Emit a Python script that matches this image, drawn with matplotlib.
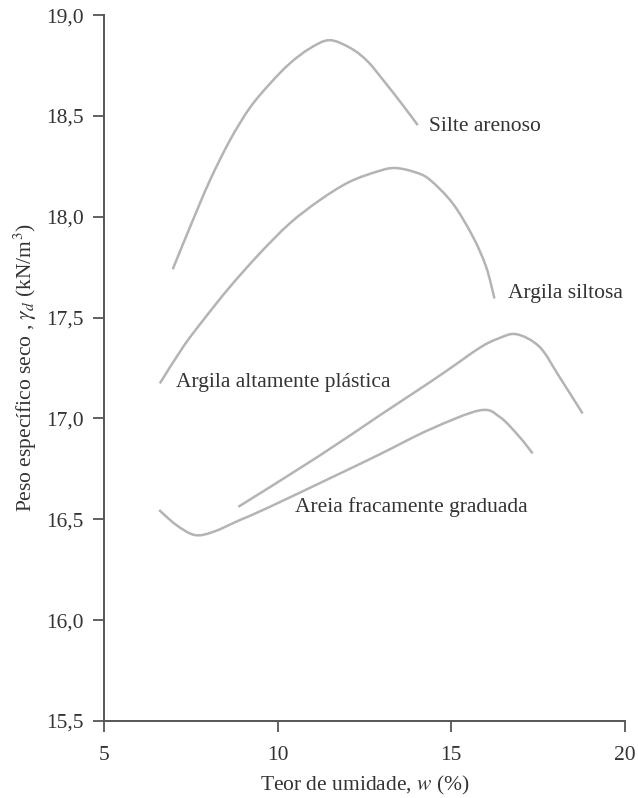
import matplotlib
matplotlib.use("Agg")
import matplotlib.pyplot as plt
import numpy as np
from matplotlib.path import Path
from matplotlib.patches import PathPatch

plt.rcParams['font.family'] = ['Liberation Serif', 'DejaVu Serif']
plt.rcParams['mathtext.fontset'] = 'stix'

# Compaction curves: moisture content w (%) vs dry unit weight (kN/m3)
silte_w = [6.98, 7.48, 8.05, 8.63, 9.20, 9.78, 10.35, 10.93, 11.50, 12.12,
           12.60, 13.08, 13.56, 14.04]
silte_g = [17.74, 17.95, 18.18, 18.38, 18.54, 18.66, 18.76, 18.835, 18.876, 18.835,
           18.77, 18.67, 18.565, 18.455]

siltosa_w = [6.61, 7.28, 7.86, 8.63, 9.49, 10.35, 11.22, 12.08, 12.94, 13.40,
             13.95, 14.38, 15.05, 15.63, 16.01, 16.25]
siltosa_g = [17.174, 17.355, 17.488, 17.653, 17.819, 17.967, 18.083, 18.174, 18.228, 18.242,
             18.222, 18.185, 18.066, 17.901, 17.752, 17.595]

plastica_w = [8.87, 11.16, 12.94, 14.04, 14.86, 15.82, 16.34, 16.88, 17.55, 18.12, 18.79]
plastica_g = [16.562, 16.81, 17.015, 17.14, 17.235, 17.35, 17.395, 17.418, 17.355, 17.207, 17.025]

areia_w = [6.59, 7.09, 7.62, 8.15, 8.91, 9.68, 11.60, 12.94, 14.38, 15.82, 16.40, 16.97, 17.35]
areia_g = [16.546, 16.471, 16.422, 16.438, 16.496, 16.554, 16.711, 16.822, 16.945, 17.04, 17.008, 16.909, 16.827]

curve_labels = ["Silte arenoso", "Argila siltosa", "Argila altamente plástica",
                "Areia fracamente graduada"]
label_pos = [(14.37, 18.45), (16.64, 17.62), (7.07, 17.18), (10.50, 16.56)]

x_ticks = [5, 10, 15, 20]
y_ticks = [15.5, 16.0, 16.5, 17.0, 17.5, 18.0, 18.5, 19.0]

line_color = "#b4b4b4"
text_color = "#333333"
axis_color = "#555555"


def smooth_path(xs, ys):
    """Cubic Bezier path passing through every point (Catmull-Rom tangents)."""
    p = np.column_stack([xs, ys]).astype(float)
    ext = np.vstack([p[0], p, p[-1]])
    verts = [p[0]]
    codes = [Path.MOVETO]
    for i in range(len(p) - 1):
        p0, p1, p2, p3 = ext[i], ext[i + 1], ext[i + 2], ext[i + 3]
        c1 = p1 + (p2 - p0) / 6.0
        c2 = p2 - (p3 - p1) / 6.0
        verts += [c1, c2, p2]
        codes += [Path.CURVE4] * 3
    return Path(np.array(verts), codes)


fig = plt.figure(figsize=(6.38, 7.98), dpi=100)
ax = fig.add_axes([0.163, 0.0965, 0.816, 0.8845])

for w, g in [(silte_w, silte_g), (siltosa_w, siltosa_g),
             (plastica_w, plastica_g), (areia_w, areia_g)]:
    patch = PathPatch(smooth_path(w, g), facecolor='none', edgecolor=line_color,
                      lw=1.8, capstyle='butt', joinstyle='round')
    ax.add_patch(patch)

for txt, (tx, ty) in zip(curve_labels, label_pos):
    ax.text(tx, ty, txt, fontsize=15.5, color=text_color, ha='left', va='center')

ax.set_xlim(5, 20)
ax.set_ylim(15.5, 19.0)
ax.set_xticks(x_ticks)
ax.set_xticklabels([str(v) for v in x_ticks])
ax.set_yticks(y_ticks)
ax.set_yticklabels([f"{v:.1f}".replace('.', ',') for v in y_ticks])

for s in ['top', 'right']:
    ax.spines[s].set_visible(False)
for s in ['left', 'bottom']:
    ax.spines[s].set_color(axis_color)
    ax.spines[s].set_linewidth(1.4)

ax.tick_params(axis='both', direction='out', length=8, width=1.3,
               color=axis_color, labelsize=15.5, labelcolor=text_color)
ax.tick_params(axis='x', pad=10)
ax.tick_params(axis='y', pad=6.5)

ax.set_xlabel(r"Teor de umidade, $w$ (%)", fontsize=15.5, color=text_color, labelpad=6.5)
ax.set_ylabel(r"Peso específico seco , $\gamma_d$ (kN/m$^3$)", fontsize=15.5,
              color=text_color, labelpad=5)

fig.savefig("out.png", dpi=100)
